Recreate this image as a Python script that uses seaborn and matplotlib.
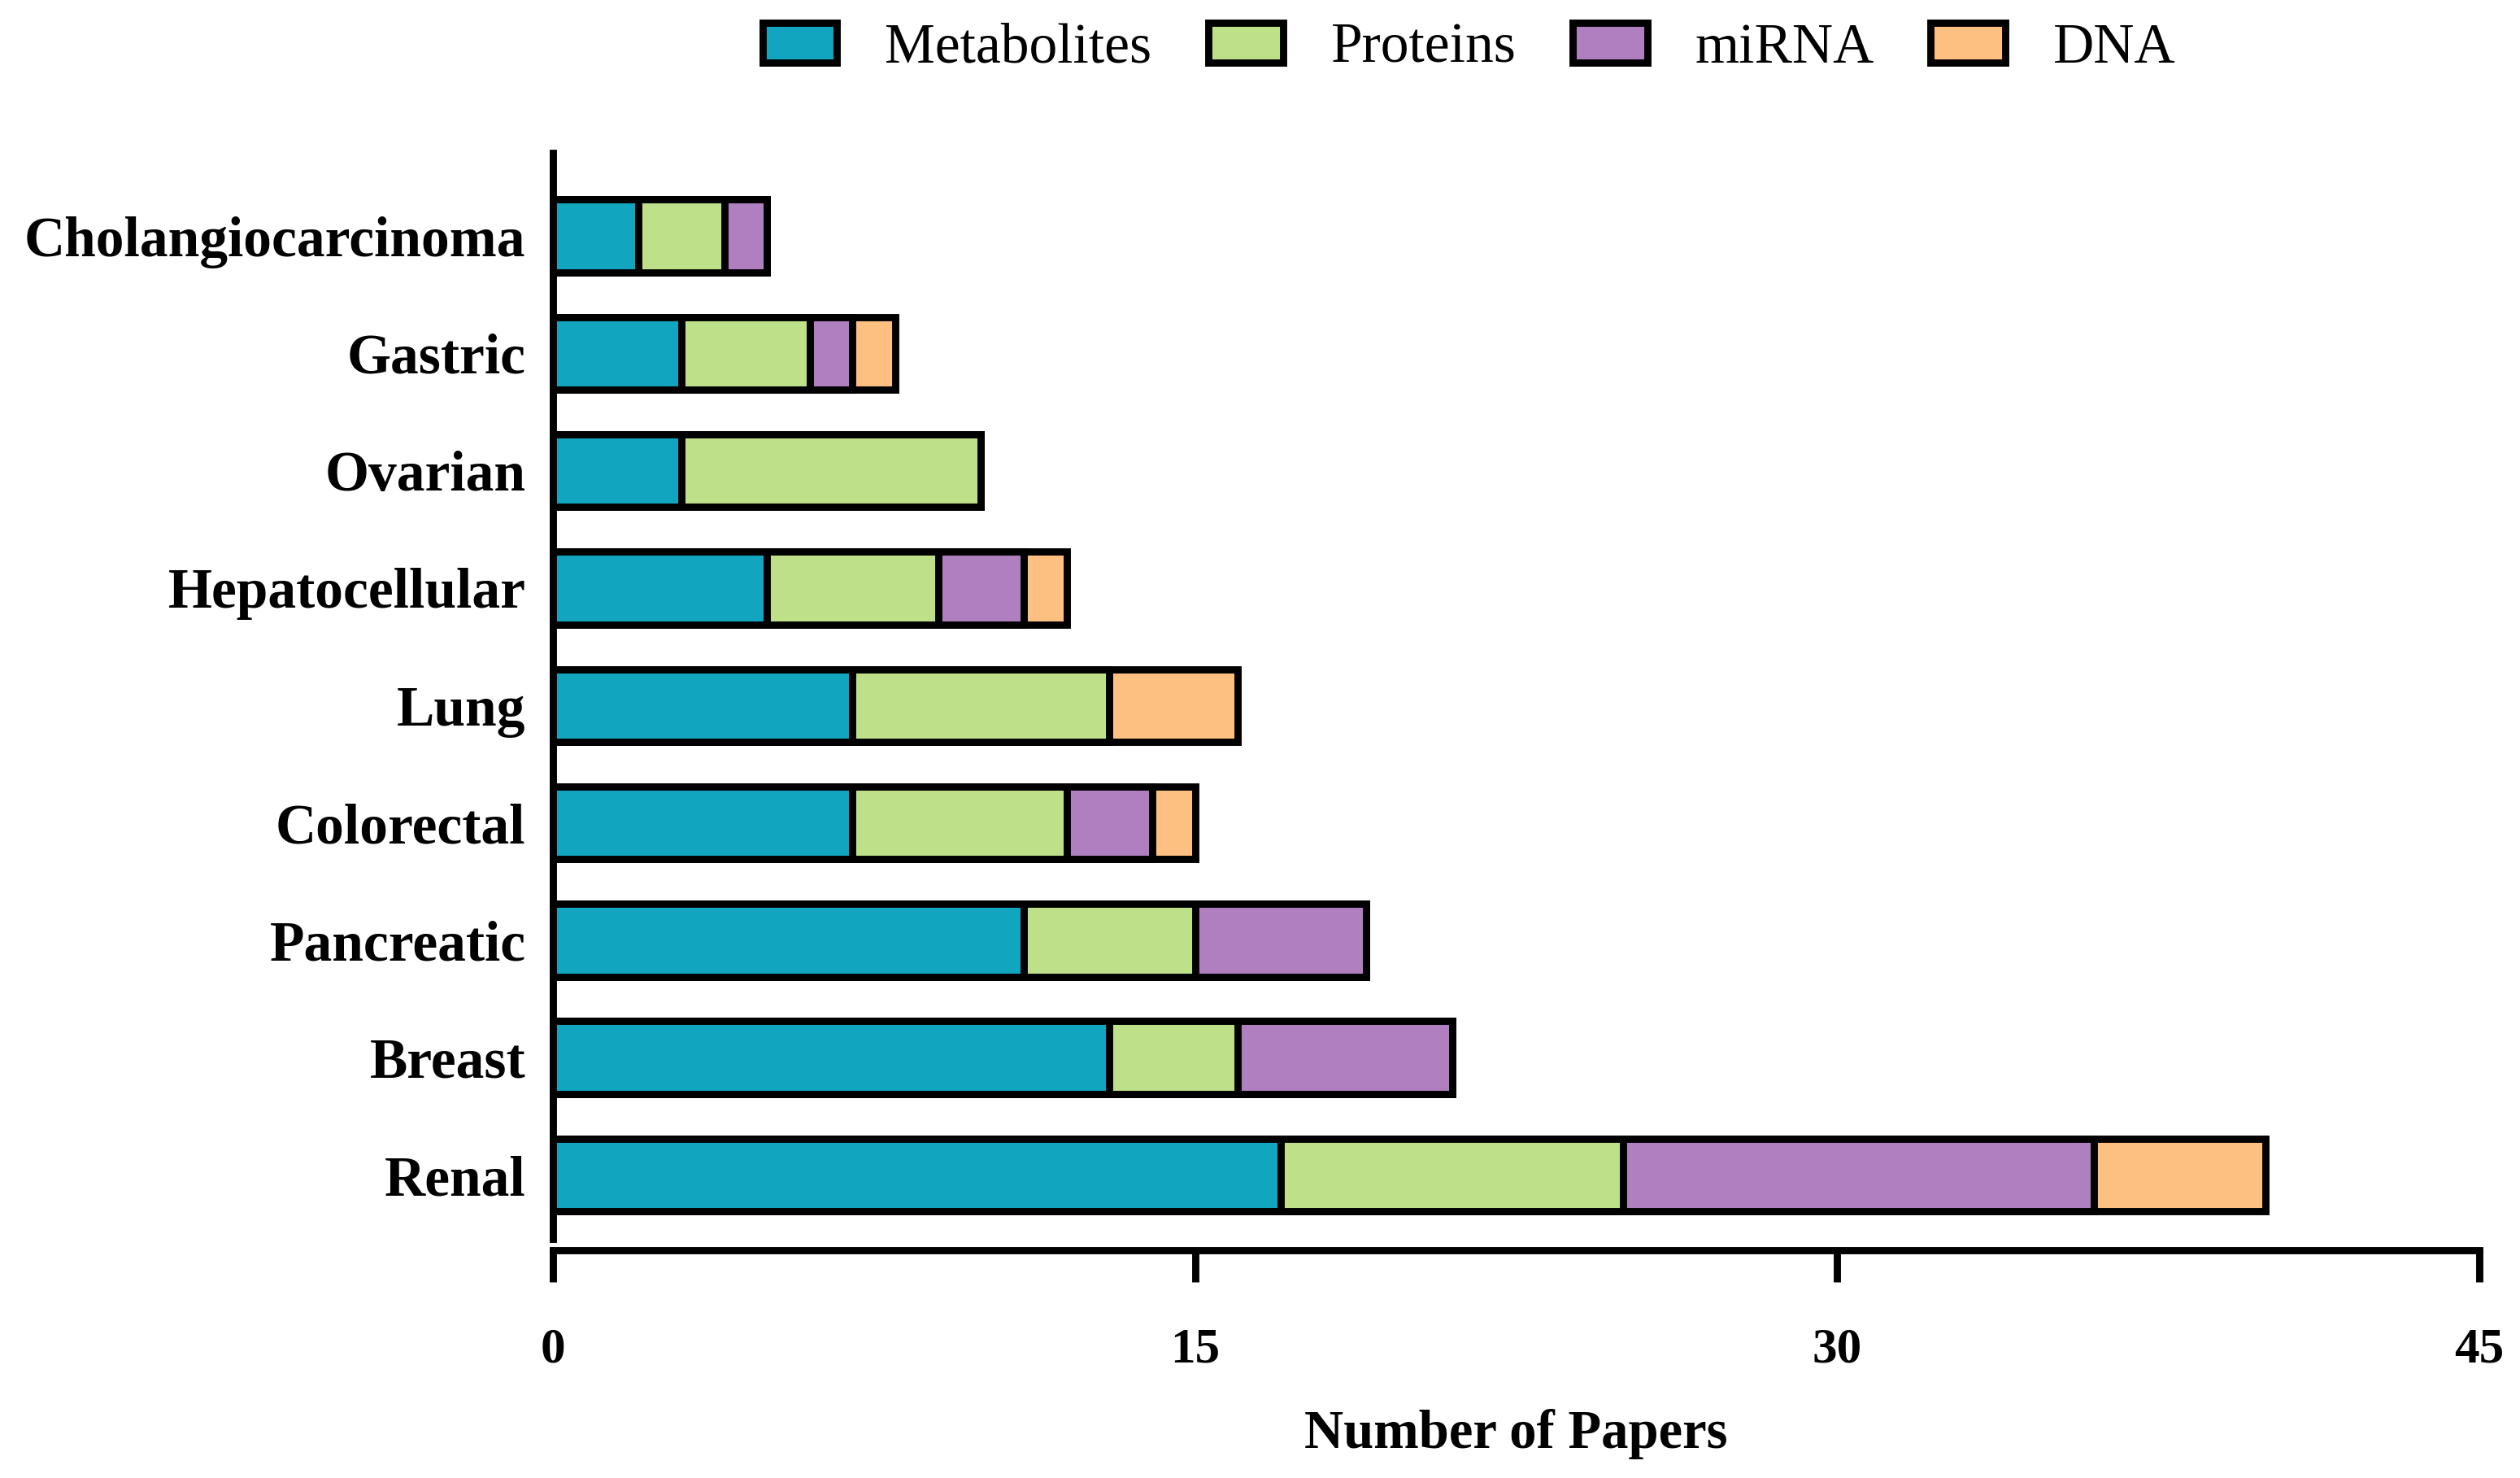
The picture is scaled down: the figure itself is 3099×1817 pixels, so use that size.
import seaborn as sns
import matplotlib.pyplot as plt
import pandas as pd
import numpy as np
from matplotlib.patches import Patch

# data
cancers = ['Cholangiocarcinoma', 'Gastric', 'Ovarian', 'Hepatocellular', 'Lung',
           'Colorectal', 'Pancreatic', 'Breast', 'Renal']
metabolites = [2, 3, 3, 5, 7, 7, 11, 13, 17]
proteins = [2, 3, 7, 4, 6, 5, 4, 3, 8]
mirna = [1, 1, 0, 2, 0, 2, 4, 5, 11]
dna = [0, 1, 0, 1, 3, 1, 0, 0, 4]

series = ['Metabolites', 'Proteins', 'miRNA', 'DNA']
colors = ['#12A5C0', '#BEE088', '#B07FC0', '#FEC080']

df = pd.DataFrame({'Cancer': cancers, 'Metabolites': metabolites,
                   'Proteins': proteins, 'miRNA': mirna, 'DNA': dna})
cum = df[series].cumsum(axis=1)

sns.set_style('ticks')
plt.rcParams['font.family'] = ['Liberation Serif', 'DejaVu Serif']
plt.rcParams['text.color'] = 'black'
plt.rcParams['xtick.color'] = 'black'
plt.rcParams['ytick.color'] = 'black'
plt.rcParams['axes.labelcolor'] = 'black'
plt.rcParams['axes.edgecolor'] = 'black'

fig = plt.figure(figsize=(15.495, 9.085), dpi=200)
ax = fig.add_axes([0.2194, 0.1618, 0.7645, 0.7347])

lw = 3.2
# stacked bars: draw cumulative totals from the longest to the shortest
for name, col in zip(series[::-1], colors[::-1]):
    sns.barplot(x=cum[name], y=df['Cancer'], orient='h', color=col,
                edgecolor='black', linewidth=lw, width=0.62, saturation=1, ax=ax)

ax.set_xlim(0, 45)
ax.set_xticks([0, 15, 30, 45])
ax.set_ylim(8.544, -0.707)
ax.set_ylabel('')
ax.set_xlabel('Number of Papers', fontsize=24, fontweight='bold', labelpad=16)

for s in ['top', 'right']:
    ax.spines[s].set_visible(False)
for s in ['left', 'bottom']:
    ax.spines[s].set_linewidth(lw)
ax.spines['bottom'].set_position(('outward', 5))

ax.tick_params(axis='x', length=14, width=lw, direction='out', labelsize=22, pad=20)
ax.tick_params(axis='y', length=0, labelsize=25, pad=12)
for t in ax.get_xticklabels() + ax.get_yticklabels():
    t.set_fontweight('bold')

handles = [Patch(facecolor=c, edgecolor='black', linewidth=lw, label=s)
           for s, c in zip(series, colors)]
fig.legend(handles=handles, loc='center', bbox_to_anchor=(0.583, 0.967), ncol=4,
           frameon=False, fontsize=25, handlelength=1.32, handleheight=0.72,
           handletextpad=0.85, columnspacing=1.0)

plt.savefig('out.png', dpi=200)
